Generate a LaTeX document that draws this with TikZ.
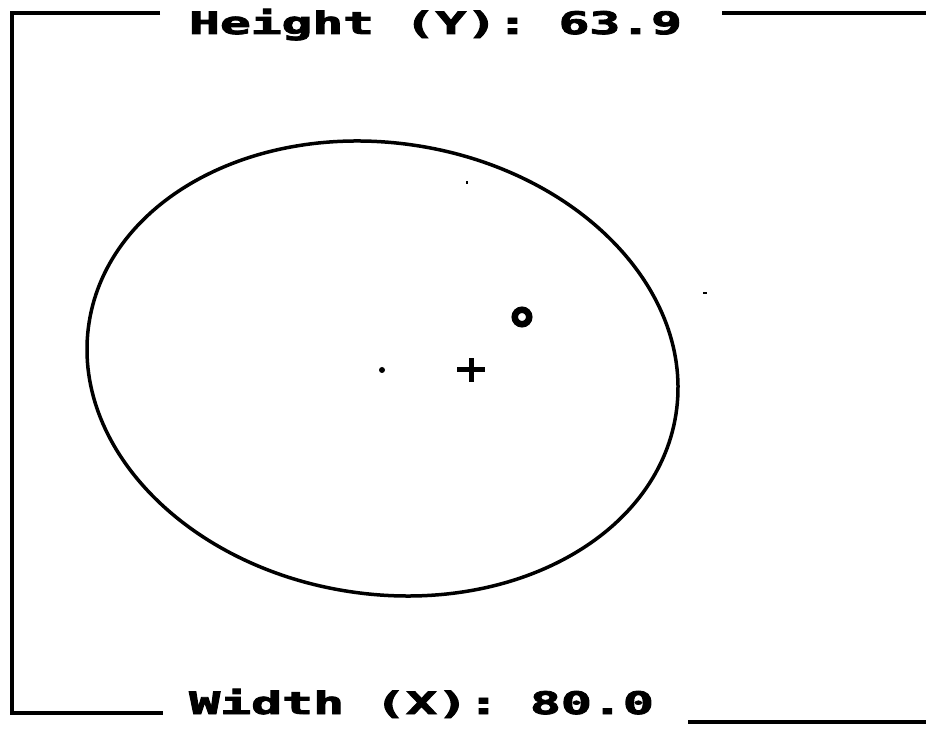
\documentclass[tikz,border=0pt]{standalone}
\usepackage{fontspec}
\newfontfamily\pixfont[BoldFeatures={FakeBold=2.5}]{DejaVu Sans Mono}
\begin{document}
\begin{tikzpicture}[x=1pt,y=1pt,
  frameline/.style={line width=3.5pt},
  curve/.style={line width=3.5pt},
  plusmark/.style={line width=5pt},
  lbl/.style={font=\pixfont\bfseries\fontsize{31}{38}\selectfont, inner sep=0pt, anchor=base west}]
\useasboundingbox (0,0) rectangle (926,731);
% texts
\node[lbl] (htext) at (189,697) {\scalebox{1.65}[1]{Height (Y): 63.9}};
\node[lbl] (wtext) at (189,17) {\scalebox{1.66}[1]{Width (X): 80.0}};
% frame
\coordinate (tl) at (12,718);
\coordinate (bl) at (12,18);
\coordinate (tle) at (160,718);
\coordinate (tr1) at (722,718);
\coordinate (tr2) at (926,718);
\coordinate (ble) at (163,18);
\coordinate (br1) at (688,9);
\coordinate (br2) at (926,9);
\draw[frameline] (tle) -- (tl) -- (bl) -- (ble);
\draw[frameline] (tr1) -- (tr2);
\draw[frameline] (br1) -- (br2);
% ellipse
\coordinate (ctr) at (382.5,362.5);
\draw[curve] (ctr) ellipse [x radius=297, y radius=225.5, rotate=-8.9];
% marks
\fill (382,361) circle [radius=3];
\coordinate (plus) at (471,361);
\draw[plusmark] ([xshift=-14pt]plus) -- ([xshift=14pt]plus);
\draw[plusmark] ([yshift=-12pt]plus) -- ([yshift=12pt]plus);
\draw[line width=6.5pt] (522,414) circle [radius=7.25];
\fill (466,547) rectangle (468,550);
\fill (703,437) rectangle (707,439);
\end{tikzpicture}
\end{document}
